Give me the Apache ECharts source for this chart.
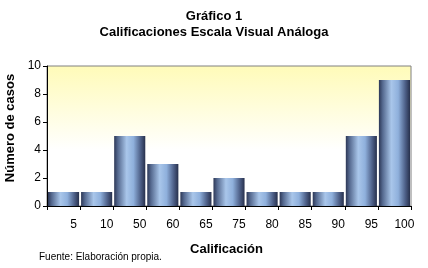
<!DOCTYPE html>
<html>
<head>
<meta charset="utf-8">
<script src="https://cdn.jsdelivr.net/npm/echarts@6/dist/echarts.min.js"></script>
<style>
  html, body { margin: 0; padding: 0; background: #fff; }
  #chart { width: 428px; height: 268px; }
</style>
</head>
<body>
<div id="chart"></div>
<script>
var categories = ['5', '10', '50', '60', '65', '75', '80', '85', '90', '95', '100'];
var casos = [1, 1, 5, 3, 1, 2, 1, 1, 1, 5, 9];
var yTicks = [0, 2, 4, 6, 8, 10];

var barColor = new echarts.graphic.LinearGradient(0, 0, 1, 0, [
    {offset: 0, color: '#2c3756'},
    {offset: 0.12, color: '#55698f'},
    {offset: 0.4, color: '#a9c6ea'},
    {offset: 0.62, color: '#8fb0dc'},
    {offset: 0.85, color: '#4d5f87'},
    {offset: 1, color: '#27304c'}
]);

var plotBg = new echarts.graphic.LinearGradient(0, 0, 0, 1, [
    {offset: 0, color: '#fffbb8'},
    {offset: 0.6, color: '#ffffff'},
    {offset: 1, color: '#ffffff'}
]);

var option = {
    animation: false,
    textStyle: { fontFamily: 'Liberation Sans, Arial, sans-serif' },
    title: {
        text: 'Gráfico 1\nCalificaciones Escala Visual Análoga',
        left: 'center',
        top: 3,
        textStyle: { fontSize: 13, fontWeight: 'bold', color: '#000', lineHeight: 16 }
    },
    grid: {
        left: 47,
        right: 17,
        top: 66,
        bottom: 62,
        outerBoundsMode: 'none',
        containLabel: false,
        show: true,
        backgroundColor: plotBg,
        borderColor: '#808080',
        borderWidth: 1
    },
    xAxis: {
        type: 'category',
        data: categories,
        name: 'Calificación',
        nameLocation: 'middle',
        nameGap: 37,
        nameTextStyle: { fontSize: 13, fontWeight: 'bold', color: '#000', padding: [0, 5, 0, 0] },
        axisLine: { lineStyle: { color: '#000', width: 1 } },
        axisTick: { show: true, alignWithLabel: false, length: 4, lineStyle: { color: '#000' } },
        axisLabel: {
            fontSize: 12,
            color: '#000',
            margin: 13,
            padding: [0, 0, 0, 20]
        }
    },
    yAxis: {
        type: 'value',
        min: yTicks[0],
        max: yTicks[yTicks.length - 1],
        interval: 2,
        name: 'Número de casos',
        nameLocation: 'middle',
        nameGap: 30,
        nameTextStyle: { fontSize: 13, fontWeight: 'bold', color: '#000', padding: [0, 0, 0, 16] },
        axisLine: { show: true, lineStyle: { color: '#000', width: 1 } },
        axisTick: { show: true, length: 4, lineStyle: { color: '#000' } },
        axisLabel: { fontSize: 12, color: '#000', margin: 6 },
        splitLine: { show: false }
    },
    series: [{
        type: 'bar',
        data: casos,
        barCategoryGap: '6%',
        itemStyle: { color: barColor }
    }],
    graphic: [{
        type: 'text',
        left: 39,
        top: 252,
        style: {
            text: 'Fuente: Elaboración propia.',
            fontSize: 10,
            fill: '#000',
            fontFamily: 'Liberation Sans, Arial, sans-serif'
        }
    }]
};

var chartDom = document.getElementById('chart');
var chart = echarts.init(chartDom);
chart.setOption(option);
</script>
</body>
</html>
